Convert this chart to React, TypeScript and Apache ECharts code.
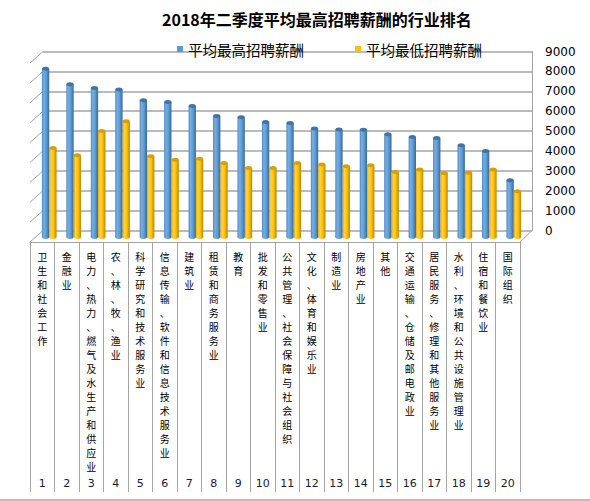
import React, { useEffect, useRef } from "react";
import * as echarts from "echarts";

const categories = [
  "卫生和社会工作",
  "金融业",
  "电力、热力、燃气及水生产和供应业",
  "农、林、牧、渔业",
  "科学研究和技术服务业",
  "信息传输、软件和信息技术服务业",
  "建筑业",
  "租赁和商务服务业",
  "教育",
  "批发和零售业",
  "公共管理、社会保障与社会组织",
  "文化、体育和娱乐业",
  "制造业",
  "房地产业",
  "其他",
  "交通运输、仓储及邮电政业",
  "居民服务、修理和其他服务业",
  "水利、环境和公共设施管理业",
  "住宿和餐饮业",
  "国际组织",
];

const maxSalary = [8460, 7680, 7490, 7410, 6870, 6790, 6590, 6080, 6020, 5780, 5730, 5450, 5400, 5390, 5160, 5030, 4980, 4610, 4320, 2850];
const minSalary = [4480, 4110, 5330, 5820, 4060, 3890, 3940, 3720, 3470, 3470, 3720, 3640, 3560, 3610, 3270, 3400, 3220, 3230, 3400, 2300];
const yTicks = [0, 1000, 2000, 3000, 4000, 5000, 6000, 7000, 8000, 9000];
const rankLabels = ["1", "2", "3", "4", "5", "6", "7", "8", "9", "10", "11", "12", "13", "14", "15", "16", "17", "18", "19", "20"];
const seriesNames = ["平均最高招聘薪酬", "平均最低招聘薪酬"];

const GRID_GRAY = "#a4a4a4";
const DEPTH_DX = -6;
const DEPTH_DY = 6.5;
const CJK = "'Noto Sans CJK SC', 'Noto Sans', sans-serif";

function grad(stops: [number, string][]) {
  return {
    type: "linear",
    x: 0,
    y: 0,
    x2: 1,
    y2: 0,
    colorStops: stops.map(([offset, color]) => ({ offset, color })),
  };
}

const blueFill = grad([
  [0, "#4a84bd"],
  [0.25, "#78aee0"],
  [0.6, "#5b9bd5"],
  [1, "#3a6894"],
]);
const yellowFill = grad([
  [0, "#e2a800"],
  [0.25, "#ffd24a"],
  [0.6, "#ffc000"],
  [1, "#b58700"],
]);

function makeBarRender(shift: number, fill: any, cap: string) {
  return (params: any, api: any) => {
    const i = api.value(0);
    const v = api.value(1);
    const band = api.size([1, 0])[0];
    const base = api.coord([i, 0]);
    const top = api.coord([i, v]);
    const w = band * 0.3;
    const rx = w / 2;
    const ry = 2;
    const cx = base[0] + DEPTH_DX + shift * rx;
    const yb = base[1] + DEPTH_DY;
    const yt = top[1] + DEPTH_DY;
    return {
      type: "group",
      children: [
        { type: "ellipse", shape: { cx, cy: yb, rx, ry }, style: { fill } },
        { type: "rect", shape: { x: cx - rx, y: yt, width: w, height: yb - yt }, style: { fill } },
        { type: "ellipse", shape: { cx, cy: yt, rx, ry }, style: { fill: cap } },
      ],
    };
  };
}

function wallRender(params: any, api: any) {
  const t = api.value(1);
  const band = api.size([1, 0])[0];
  const p = api.coord([0, t]);
  const L = p[0] - band / 2;
  const y = p[1];
  const children: any[] = [
    {
      type: "line",
      shape: { x1: L - 13, y1: y + 11.5, x2: L, y2: y },
      style: { stroke: GRID_GRAY, lineWidth: 1 },
    },
  ];
  if (t === 0) {
    const R = api.coord([categories.length - 1, 0])[0] + band / 2;
    children.push({
      type: "line",
      shape: { x1: R - 12, y1: y + 11.5, x2: R, y2: y },
      style: { stroke: GRID_GRAY, lineWidth: 1 },
    });
  }
  return { type: "group", children };
}

export default function App() {
  const ref = useRef<HTMLDivElement>(null);

  useEffect(() => {
    if (!ref.current) return;
    const chart = echarts.init(ref.current, undefined, { renderer: "svg" });
    chart.setOption({
      animation: false,
      backgroundColor: "#ffffff",
      title: {
        text: "2018年二季度平均最高招聘薪酬的行业排名",
        left: 157,
        top: 6,
        textStyle: { fontFamily: CJK, fontSize: 16, fontWeight: "bold", color: "#000" },
      },
      legend: {
        data: seriesNames,
        left: 172,
        top: 35,
        icon: "rect",
        itemWidth: 6,
        itemHeight: 6,
        itemGap: 51,
        textStyle: { fontFamily: CJK, fontSize: 14.5, color: "#000", lineHeight: 18 },
      },
      grid: [
        { left: 43, right: 58, top: 51.5, bottom: 270.5 },
        { left: 30, right: 70, top: 241, height: 1 },
      ],
      xAxis: [
        {
          type: "category",
          gridIndex: 0,
          data: categories,
          show: false,
          boundaryGap: true,
        },
        {
          type: "category",
          gridIndex: 1,
          data: categories,
          position: "bottom",
          boundaryGap: true,
          axisLine: { show: true, lineStyle: { color: GRID_GRAY, width: 1 } },
          axisTick: { show: true, interval: 0, length: 250, lineStyle: { color: GRID_GRAY, width: 1 } },
          axisLabel: {
            interval: 0,
            margin: 7,
            verticalAlign: "top",
            fontFamily: CJK,
            fontSize: 10,
            lineHeight: 14,
            color: "#000",
            formatter: (s: string) => s.split("").join("\n"),
          },
        },
        {
          type: "category",
          gridIndex: 1,
          data: rankLabels,
          position: "bottom",
          offset: 0,
          boundaryGap: true,
          axisLine: { show: false },
          axisTick: { show: false },
          axisLabel: {
            interval: 0,
            margin: 241,
            verticalAlign: "middle",
            fontFamily: "'DejaVu Sans', sans-serif",
            fontSize: 11,
            color: "#1a1a2e",
          },
        },
      ],
      yAxis: [
        {
          type: "value",
          gridIndex: 0,
          position: "right",
          min: 0,
          max: 9000,
          interval: 1000,
          axisLine: { show: true, lineStyle: { color: GRID_GRAY, width: 1 } },
          axisTick: { show: false },
          axisLabel: {
            margin: 13,
            fontFamily: "'DejaVu Sans', sans-serif",
            fontSize: 12,
            color: "#000",
            formatter: (v: number) => String(v),
          },
          splitLine: { show: true, lineStyle: { color: GRID_GRAY, width: 1.5 } },
        },
        {
          type: "value",
          gridIndex: 1,
          show: false,
        },
      ],
      series: [
        {
          type: "custom",
          xAxisIndex: 0,
          yAxisIndex: 0,
          z: 1,
          silent: true,
          encode: { x: 0, y: 1 },
          data: yTicks.map((t) => [0, t]),
          renderItem: wallRender,
        },
        {
          name: seriesNames[0],
          type: "custom",
          xAxisIndex: 0,
          yAxisIndex: 0,
          z: 2,
          itemStyle: { color: "#5b9bd5" },
          encode: { x: 0, y: 1 },
          data: maxSalary.map((v, i) => [i, v]),
          renderItem: makeBarRender(-1, blueFill, "#4173a3"),
        },
        {
          name: seriesNames[1],
          type: "custom",
          xAxisIndex: 0,
          yAxisIndex: 0,
          z: 3,
          itemStyle: { color: "#ffc000" },
          encode: { x: 0, y: 1 },
          data: minSalary.map((v, i) => [i, v]),
          renderItem: makeBarRender(1, yellowFill, "#d6a000"),
        },
      ],
      graphic: [
        {
          type: "line",
          shape: { x1: 0, y1: 500, x2: 590, y2: 500 },
          style: { stroke: GRID_GRAY, lineWidth: 1.5 },
        },
      ],
    });
    return () => chart.dispose();
  }, []);

  return (
    <div
      ref={ref}
      style={{ position: "absolute", left: 0, top: 0, width: 590, height: 501 }}
    />
  );
}
